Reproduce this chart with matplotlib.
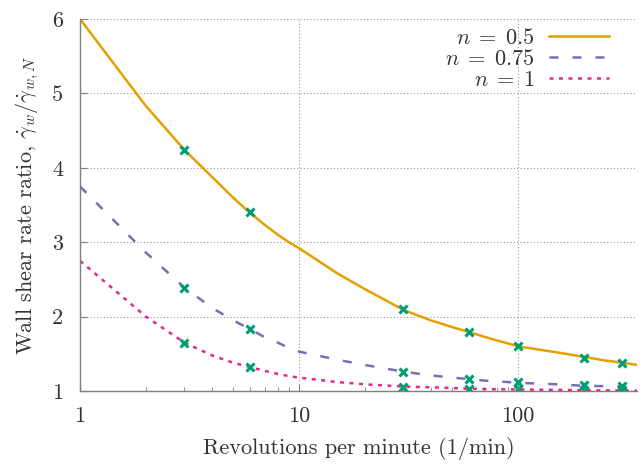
import matplotlib
matplotlib.use("Agg")
import matplotlib.pyplot as plt
from matplotlib.ticker import FixedLocator, FuncFormatter, LogLocator, NullFormatter

plt.rcParams['font.family'] = ['cmr10', 'DejaVu Serif']
plt.rcParams['mathtext.fontset'] = 'cm'
plt.rcParams['axes.formatter.use_mathtext'] = True

# curve data
rpm = [1, 2, 3, 4, 5, 6, 7, 8, 9, 10, 15, 20, 30, 40, 50, 60, 70, 80, 90, 100, 150, 200, 250, 300, 350]
ratio_n05 = [6.0, 4.83, 4.24, 3.88, 3.6, 3.39, 3.23, 3.1, 3.0, 2.92, 2.58, 2.37, 2.09, 1.95, 1.86, 1.79, 1.73, 1.68, 1.64, 1.60, 1.52, 1.46, 1.41, 1.38, 1.35]
ratio_n075 = [3.75, 2.86, 2.39, 2.12, 1.95, 1.83, 1.72, 1.65, 1.58, 1.53, 1.42, 1.35, 1.26, 1.21, 1.18, 1.16, 1.14, 1.13, 1.12, 1.11, 1.09, 1.07, 1.065, 1.06, 1.055]
ratio_n1 = [2.75, 2.0, 1.65, 1.48, 1.38, 1.32, 1.27, 1.23, 1.2, 1.18, 1.12, 1.09, 1.06, 1.05, 1.04, 1.03, 1.027, 1.024, 1.022, 1.02, 1.015, 1.01, 1.008, 1.007, 1.005]

# marker data
rpm_pts = [3, 6, 30, 60, 100, 200, 300]
pts_n05 = [4.24, 3.40, 2.10, 1.79, 1.61, 1.45, 1.38]
pts_n075 = [2.39, 1.83, 1.26, 1.16, 1.12, 1.08, 1.07]
pts_n1 = [1.65, 1.32, 1.06, 1.03, 1.03, 1.02, 1.02]

labels = [r'$n\;=\;0.5$', r'$n\;=\;0.75$', r'$n\;=\;1$']
xticks = [1, 10, 100]
yticks = [1, 2, 3, 4, 5, 6]

FS = 16
fig = plt.figure(figsize=(6.41, 4.65), dpi=100)
ax = fig.add_axes([80/641, 1-391/465, (637-80)/641, (391-19)/465])

ax.plot(rpm, ratio_n05, color='#E6A000', lw=1.8, label=labels[0])
ax.plot(rpm, ratio_n075, color='#7A6DB3', lw=1.8, dashes=(3.6, 5.6), label=labels[1])
ax.plot(rpm, ratio_n1, color='#E8288A', lw=1.8, dashes=(1.6, 2.2), label=labels[2])
for ys in (pts_n05, pts_n075, pts_n1):
    ax.plot(rpm_pts, ys, linestyle='none', marker='x', ms=6, mew=2.2, color='#009E73')

ax.set_xscale('log')
ax.set_xlim(1, 350)
ax.set_ylim(1, 6)
ax.xaxis.set_major_locator(FixedLocator(xticks))
ax.xaxis.set_major_formatter(FuncFormatter(lambda v, p: '%d' % v))
ax.xaxis.set_minor_locator(LogLocator(base=10, subs=range(2, 10)))
ax.xaxis.set_minor_formatter(NullFormatter())
ax.yaxis.set_major_locator(FixedLocator(yticks))
ax.yaxis.set_major_formatter(FuncFormatter(lambda v, p: '%d' % v))

for s in ('top', 'right'):
    ax.spines[s].set_visible(False)
for s in ('left', 'bottom'):
    ax.spines[s].set_color('#808080')
    ax.spines[s].set_linewidth(1.0)

ax.tick_params(which='both', direction='in', colors='#808080', labelcolor='#333333', labelsize=FS)
ax.tick_params(which='major', length=5)
ax.tick_params(axis='y', which='major', pad=12)
ax.tick_params(axis='x', which='major', pad=11)
ax.tick_params(which='minor', length=3)
ax.grid(True, which='major', color='#999999', linestyle=(0, (1, 2)), lw=0.8)

ax.set_xlabel('Revolutions per minute (1/min)', fontsize=FS, color='#333333', labelpad=8)
ax.set_ylabel(r'Wall shear rate ratio, $\dot{\gamma}_w/\dot{\gamma}_{w,N}$', fontsize=FS, color='#333333', labelpad=8)

leg = ax.legend(loc='upper right', bbox_to_anchor=(0.985, 1.03), frameon=False, markerfirst=False,
                fontsize=FS, handlelength=2.7, handletextpad=0.65, labelspacing=0.05)
for t in leg.get_texts():
    t.set_color('#333333')

fig.savefig('out.png', dpi=100)
